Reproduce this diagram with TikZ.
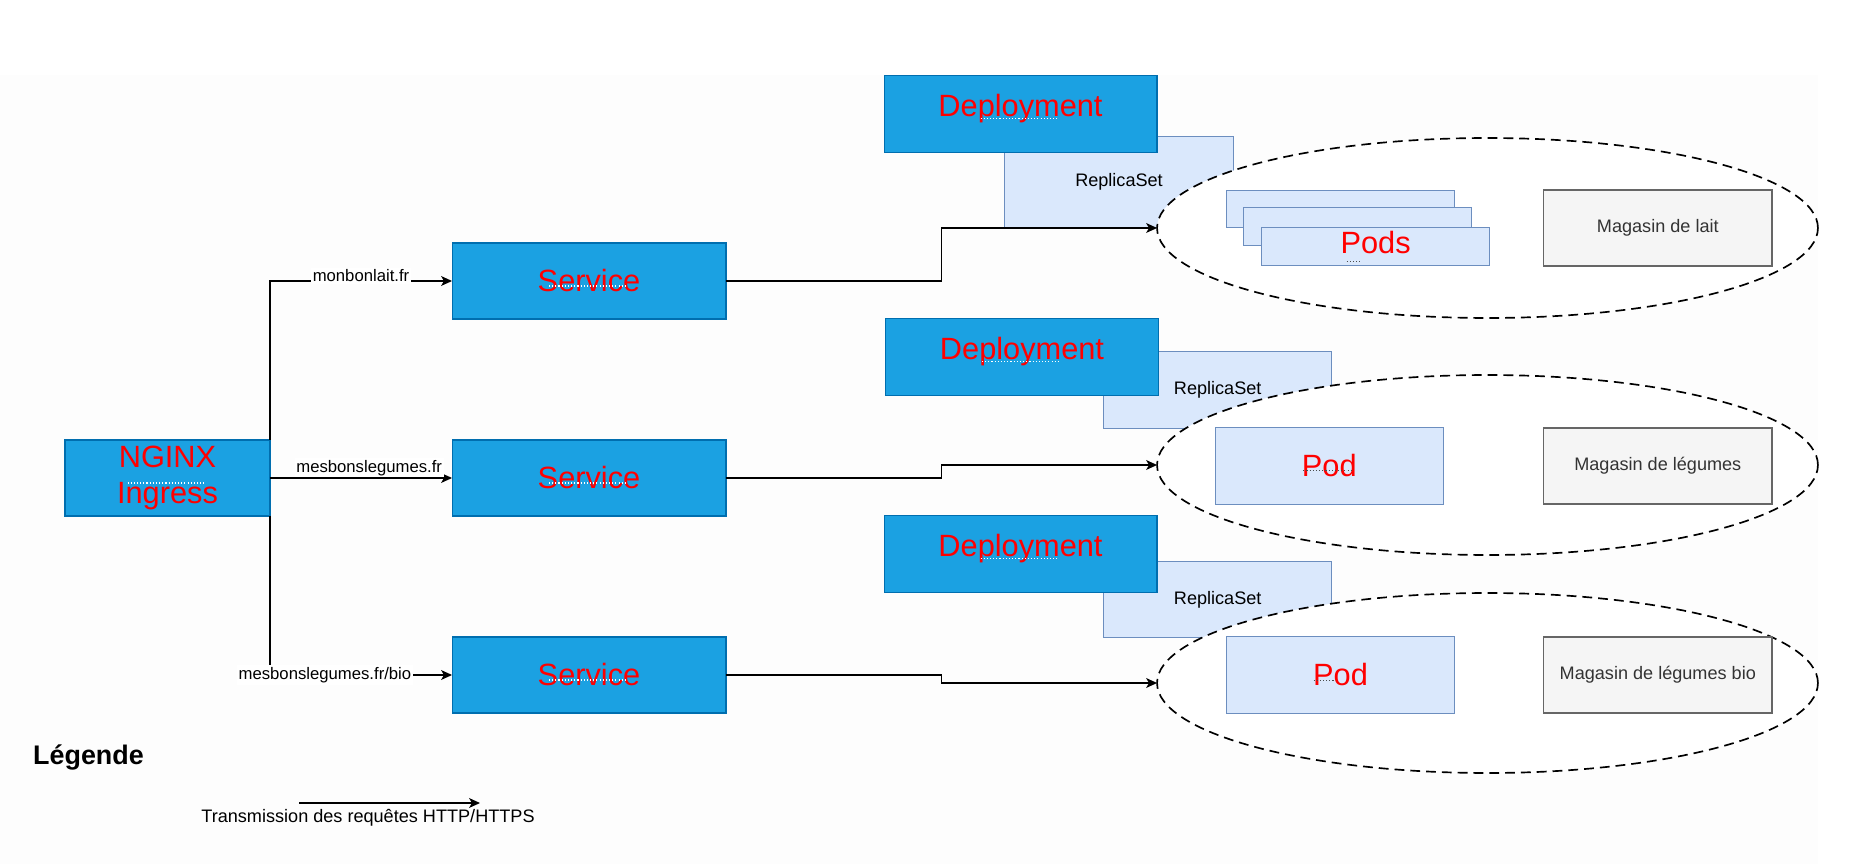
\documentclass[tikz,border=0pt]{standalone}
\usepackage{fontspec}
\setmainfont{Liberation Sans}
\usetikzlibrary{calc,arrows.meta,shapes.geometric}

\definecolor{kubeblue}{HTML}{1BA1E2}
\definecolor{kubeline}{HTML}{006EAF}
\definecolor{rsfill}{HTML}{DAE8FC}
\definecolor{rsline}{HTML}{6C8EBF}
\definecolor{shopfill}{HTML}{F5F5F5}
\definecolor{shopline}{HTML}{666666}
\definecolor{shoptext}{HTML}{333333}
\definecolor{sheet}{HTML}{FDFDFD}

\begin{document}
\begin{tikzpicture}[x=0.02cm,y=-0.02cm,
    bluebox/.style={draw=kubeline,fill=kubeblue,line width=0.6pt,text=red,
        font=\fontsize{17.5}{20.5}\selectfont,align=center,inner sep=0pt,
        outer sep=0pt,minimum height=1.52cm},
    svcbox/.style={bluebox,minimum width=5.48cm},
    depbox/.style={bluebox,minimum width=5.46cm,minimum height=1.54cm,text depth=9pt},
    rsbox/.style={draw=rsline,fill=rsfill,line width=0.6pt,inner sep=0pt,
        outer sep=0pt,minimum width=4.57cm,font=\fontsize{10.3}{12}\selectfont},
    podbox/.style={rsbox,minimum width=4.56cm,text=red,
        font=\fontsize{17.5}{20.5}\selectfont},
    shopbox/.style={draw=shopline,fill=shopfill,line width=0.7pt,text=shoptext,
        inner sep=0pt,outer sep=0pt,minimum width=4.57cm,minimum height=1.52cm,
        font=\fontsize{10.3}{12}\selectfont},
    zone/.style={ellipse,draw,fill=white,dash pattern=on 5.6pt off 3.4pt,
        line width=0.95pt,minimum width=13.22cm,minimum height=3.6cm,
        inner sep=0pt,outer sep=0pt},
    req/.style={draw,line width=0.8pt,-{Stealth[length=6.2pt,width=5.6pt,inset=1.6pt]}},
    urllabel/.style={fill=white,inner sep=1pt,font=\fontsize{9.5}{11}\selectfont},
    typo/.style={white,dash pattern=on 0.6pt off 1.2pt,line width=0.6pt},
    podtypo/.style={black!70,dash pattern=on 0.6pt off 1.2pt,line width=0.5pt}]

% Page size, and the faint grey sheet behind the drawing.
\useasboundingbox (0,0) rectangle (1860,864);
\fill[sheet] (0,75) rectangle (1818,864);

% NGINX ingress on the left.
\node[bluebox,minimum width=4.1cm] (nginx) at (167.5,478) {NGINX\\Ingress};

% Loop for each service.
\foreach \t/\y in {1/281,2/478,3/675} {
    \node[svcbox] (svc\t) at (589,\y) {Service};
}

% Loop for each shop: replicaset behind, deployment on top,
% then the dashed zone which hides the replicaset corner.
\foreach \t/\dx/\dy/\rx/\ry/\rh/\zy in {
    1/1020.5/113.7/1119/182/1.834cm/228,
    2/1022/356.6/1217.7/390/1.53cm/465,
    3/1020.5/553.7/1217.7/599.4/1.52cm/683} {

    \node[rsbox,minimum height=\rh] (rs\t) at (\rx,\ry) {ReplicaSet};
    \node[depbox] (dep\t) at (\dx,\dy) {Deployment};
    \node[zone] (zone\t) at (1487.5,\zy) {};
}

% Stack of pods in the first zone.
\node[podbox,minimum height=0.754cm] (podsa) at (1340.5,208.9) {};
\node[podbox,minimum height=0.754cm] (podsb) at (1357.2,226.2) {};
\node[podbox,minimum height=0.76cm,text depth=4.8pt] (podsc) at (1375.6,246.7) {Pods};

% Single pods.
\node[podbox,minimum height=1.53cm] (pod2) at (1329.3,466) {Pod};
\node[podbox,minimum height=1.53cm] (pod3) at (1340.5,675) {Pod};

% Shop names.
\foreach \t/\y/\txt in {1/228/Magasin de lait,2/466/Magasin de légumes,
    3/675/Magasin de légumes bio} {
    \node[shopbox] (shop\t) at (1657.8,\y) {\txt};
}

% Ingress rules to the services.
\draw[req] (nginx.north east)
    |- node[urllabel,pos=0.75,yshift=3pt] {monbonlait.fr} (svc1.west);
\draw[req] (nginx.east)
    -- node[urllabel,above,pos=0.545] {mesbonslegumes.fr} (svc2.west);
\draw[req] (nginx.south east)
    |- node[urllabel,pos=0.651] {mesbonslegumes.fr/bio} (svc3.west);

% Services to the pods zones.
\foreach \t in {1,2,3} {
    \draw[req] (svc\t.east)
        -| ($(svc\t.east)!0.5!(zone\t.west)$) |- (zone\t.west);
}

% Dotted marks under the box texts.
\foreach \n in {nginx,svc1,svc2,svc3,dep1,dep2,dep3} {
    \draw[typo] ($(\n.center)+(-40,5)$) -- ++(78,0);
}
\draw[podtypo] ($(podsc.center)+(-29,15)$) -- ++(14,0);
\draw[podtypo] ($(pod2.center)+(-26,4)$) -- ++(49,0);
\draw[podtypo] ($(pod3.center)+(-27,5)$) -- ++(20,0);

% Legend.
\node[font=\fontsize{15.3}{18}\selectfont\bfseries] (legend) at (88.5,757) {Légende};
\coordinate (legfrom) at (299,803);
\coordinate (legto) at (480,803);
\draw[req] (legfrom) -- (legto);
\node[font=\fontsize{10.3}{12}\selectfont] (legdesc) at (368,818)
    {Transmission des requêtes HTTP/HTTPS};

\end{tikzpicture}
\end{document}
